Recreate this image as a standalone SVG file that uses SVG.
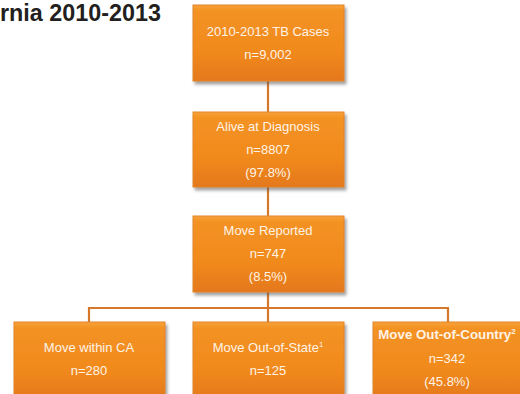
<svg xmlns="http://www.w3.org/2000/svg" width="520" height="394" viewBox="0 0 520 394">
<defs>
<linearGradient id="g" x1="0" y1="0" x2="0" y2="1">
<stop offset="0" stop-color="#F7A23A"/>
<stop offset="0.08" stop-color="#F39222"/>
<stop offset="0.6" stop-color="#F18A1E"/>
<stop offset="1" stop-color="#E4781B"/>
</linearGradient>
<filter id="sh" x="-10%" y="-10%" width="125%" height="130%">
<feDropShadow dx="2" dy="3" stdDeviation="1.8" flood-color="#555" flood-opacity="0.55"/>
</filter>
</defs>
<style>
.box{fill:url(#g);stroke:#E0852A;stroke-width:1;filter:url(#sh)}
.t{font-family:"Liberation Sans",Arial,sans-serif;font-size:13px;fill:#FFF3E6;text-anchor:middle}
.b{font-weight:bold;font-size:13.3px}
.c{fill:none;stroke:#D5782C;stroke-width:2.2}
.title{font-family:"Liberation Sans",Arial,sans-serif;font-weight:bold;font-size:24px;fill:#231F20}
</style>
<rect width="520" height="394" fill="#FFFFFF"/>
<text class="title" x="0" y="21" textLength="161" lengthAdjust="spacingAndGlyphs">rnia 2010-2013</text>
<g id="connectors">
<line class="c" x1="268" y1="81" x2="268" y2="112"/>
<line class="c" x1="268" y1="187" x2="268" y2="216"/>
<line class="c" x1="268" y1="292" x2="268" y2="322"/>
<polyline class="c" points="89,322 89,308 448,308 448,322"/>
</g>
<g id="n1">
<rect class="box" x="193" y="5" width="151" height="76"/>
<text class="t" x="268" y="36">2010-2013 TB Cases</text>
<text class="t" x="268" y="59">n=9,002</text>
</g>
<g id="n2">
<rect class="box" x="193" y="112" width="151" height="75"/>
<text class="t" x="268" y="131">Alive at Diagnosis</text>
<text class="t" x="268" y="154">n=8807</text>
<text class="t" x="268" y="177">(97.8%)</text>
</g>
<g id="n3">
<rect class="box" x="193" y="216" width="151" height="76"/>
<text class="t" x="268" y="235">Move Reported</text>
<text class="t" x="268" y="258">n=747</text>
<text class="t" x="268" y="281">(8.5%)</text>
</g>
<g id="n4">
<rect class="box" x="14" y="322" width="151" height="78"/>
<text class="t" x="89" y="352">Move within CA</text>
<text class="t" x="89" y="375">n=280</text>
</g>
<g id="n5">
<rect class="box" x="193" y="322" width="151" height="78"/>
<text class="t" x="268" y="352">Move Out-of-State<tspan font-size="8" dy="-5">1</tspan></text>
<text class="t" x="268" y="375">n=125</text>
</g>
<g id="n6">
<rect class="box" x="373" y="322" width="151" height="78"/>
<text class="t b" x="447" y="339">Move Out-of-Country<tspan font-size="8" dy="-5">2</tspan></text>
<text class="t" x="447" y="363">n=342</text>
<text class="t" x="447" y="386">(45.8%)</text>
</g>
</svg>
